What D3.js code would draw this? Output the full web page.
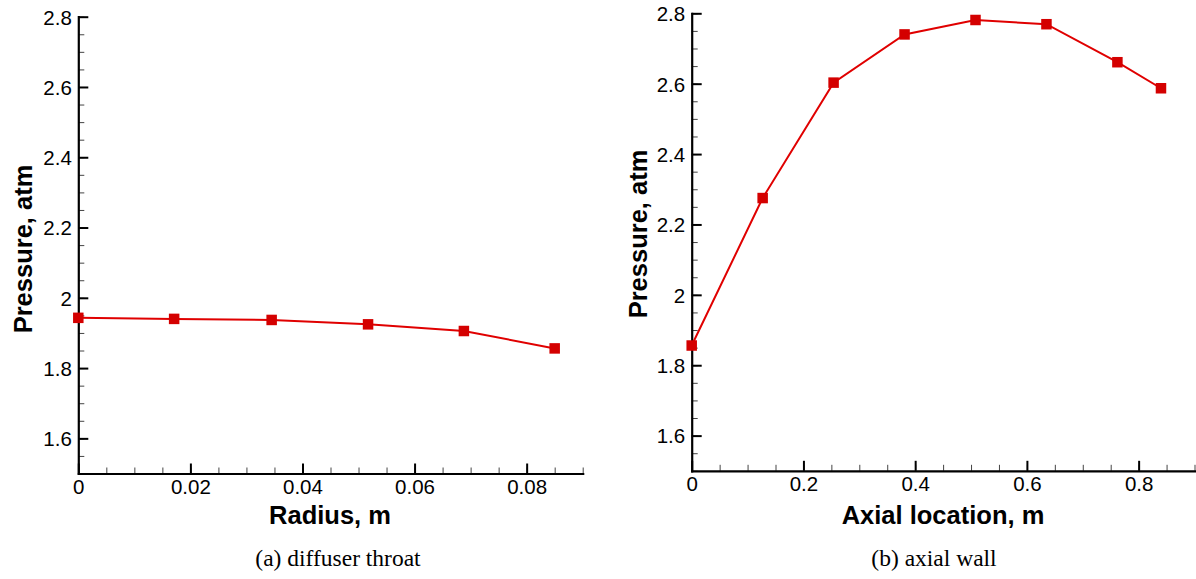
<!DOCTYPE html>
<html>
<head>
<meta charset="utf-8">
<script src="https://cdn.jsdelivr.net/npm/d3@7"></script>
<style>
  html, body { margin: 0; padding: 0; background: #fff; }
  svg { display: block; }
  .tick-label { font-family: "Liberation Sans", Arial, Helvetica, sans-serif; font-size: 20.5px; fill: #000; }
  .axis-title { font-family: "Liberation Sans", Arial, Helvetica, sans-serif; font-size: 25.5px; font-weight: bold; fill: #000; }
  .caption { font-family: "Liberation Serif", "Times New Roman", serif; font-size: 23.5px; fill: #000; }
</style>
</head>
<body>
<svg id="fig" width="1196" height="579"></svg>
<script>
// Panel (a): pressure across the diffuser throat
const radius = [0, 0.0171, 0.0345, 0.0517, 0.0688, 0.085];
const throatPressure = [1.943, 1.940, 1.937, 1.9245, 1.9055, 1.856];
const radiusTicks = [0, 0.02, 0.04, 0.06, 0.08];
const radiusTickLabels = ["0", "0.02", "0.04", "0.06", "0.08"];

// Panel (b): pressure along the axial wall
const axialLocation = [0, 0.127, 0.254, 0.381, 0.508, 0.635, 0.762, 0.84];
const wallPressure = [1.856, 2.275, 2.603, 2.740, 2.781, 2.769, 2.661, 2.587];
const axialTicks = [0, 0.2, 0.4, 0.6, 0.8];
const axialTickLabels = ["0", "0.2", "0.4", "0.6", "0.8"];

// Shared pressure axis
const pressureTicks = [1.6, 1.8, 2, 2.2, 2.4, 2.6, 2.8];
const pressureTickLabels = ["1.6", "1.8", "2", "2.2", "2.4", "2.6", "2.8"];

const svg = d3.select("#fig");
const lineColor = "#e00000";
const markerColor = "#d40000";

function drawPanel(cfg) {
  const x = d3.scaleLinear().domain(cfg.xDomain).range([cfg.left, cfg.right]);
  const y = d3.scaleLinear().domain([1.5, 2.8]).range([cfg.bottom, cfg.top]);
  const g = svg.append("g");

  // minor ticks
  const xMinor = d3.range(cfg.xDomain[0], cfg.xDomain[1] + cfg.xMinorStep / 2, cfg.xMinorStep);
  const yMinor = d3.range(1.5, 2.8 + 0.025, 0.05);
  g.append("g")
    .attr("transform", `translate(0,${cfg.bottom})`)
    .call(d3.axisBottom(x).tickValues(xMinor).tickSize(-6).tickFormat(""))
    .call(s => s.select(".domain").remove())
    .call(s => s.selectAll("line").attr("stroke", "#444").attr("stroke-width", 1));
  g.append("g")
    .attr("transform", `translate(${cfg.left},0)`)
    .call(d3.axisLeft(y).tickValues(yMinor).tickSize(-6).tickFormat(""))
    .call(s => s.select(".domain").remove())
    .call(s => s.selectAll("line").attr("stroke", "#444").attr("stroke-width", 1));

  // major x axis
  const xAxis = g.append("g")
    .attr("transform", `translate(0,${cfg.bottom})`)
    .call(d3.axisBottom(x).tickValues(cfg.xTicks).tickSizeInner(-10).tickSizeOuter(0)
      .tickFormat((d, i) => cfg.xTickLabels[i]));
  xAxis.select(".domain").attr("stroke", "#000").attr("stroke-width", 2.2);
  xAxis.selectAll(".tick line").attr("stroke", "#000").attr("stroke-width", 2);
  xAxis.selectAll(".tick text").attr("class", "tick-label").attr("y", 20.5).attr("dy", 0);

  // major y axis
  const yAxis = g.append("g")
    .attr("transform", `translate(${cfg.left},0)`)
    .call(d3.axisLeft(y).tickValues(pressureTicks).tickSizeInner(-10).tickSizeOuter(0)
      .tickFormat((d, i) => pressureTickLabels[i]));
  yAxis.select(".domain").attr("stroke", "#000").attr("stroke-width", 2.2);
  yAxis.selectAll(".tick line").attr("stroke", "#000").attr("stroke-width", 2);
  yAxis.selectAll(".tick text").attr("class", "tick-label").attr("x", -6.5).attr("dy", "0.36em");
  g.selectAll("g").attr("font-size", null).attr("font-family", null);
  g.selectAll(".domain").attr("stroke-linecap", "square");

  // series
  const pts = cfg.xs.map((v, i) => [v, cfg.ys[i]]);
  g.append("path")
    .datum(pts)
    .attr("fill", "none")
    .attr("stroke", lineColor)
    .attr("stroke-width", 2)
    .attr("d", d3.line().x(d => x(d[0])).y(d => y(d[1])));
  const m = 10.5;
  g.selectAll("rect.marker")
    .data(pts)
    .join("rect")
    .attr("class", "marker")
    .attr("x", d => x(d[0]) - m / 2)
    .attr("y", d => y(d[1]) - m / 2)
    .attr("width", m)
    .attr("height", m)
    .attr("fill", markerColor);

  // titles
  g.append("text")
    .attr("class", "axis-title")
    .attr("x", cfg.xTitleX)
    .attr("y", 524)
    .attr("text-anchor", "middle")
    .text(cfg.xTitle);
  g.append("text")
    .attr("class", "axis-title")
    .attr("transform", `translate(${cfg.yTitleX},${cfg.yTitleY}) rotate(-90)`)
    .attr("text-anchor", "middle")
    .text("Pressure, atm");
  g.append("text")
    .attr("class", "caption")
    .attr("x", cfg.captionX)
    .attr("y", 566)
    .attr("text-anchor", "middle")
    .text(cfg.caption);
}

drawPanel({
  xDomain: [0, 0.09], xMinorStep: 0.005,
  left: 78.3, right: 582.7, top: 16.7, bottom: 473.5,
  xTicks: radiusTicks, xTickLabels: radiusTickLabels,
  xs: radius, ys: throatPressure,
  xTitle: "Radius, m", xTitleX: 330,
  yTitleX: 32, yTitleY: 249,
  caption: "(a) diffuser throat", captionX: 338
});

drawPanel({
  xDomain: [0, 0.9], xMinorStep: 0.05,
  left: 691.7, right: 1194.5, top: 13.3, bottom: 470.8,
  xTicks: axialTicks, xTickLabels: axialTickLabels,
  xs: axialLocation, ys: wallPressure,
  xTitle: "Axial location, m", xTitleX: 943,
  yTitleX: 647, yTitleY: 234,
  caption: "(b) axial wall", captionX: 934
});
</script>
</body>
</html>
